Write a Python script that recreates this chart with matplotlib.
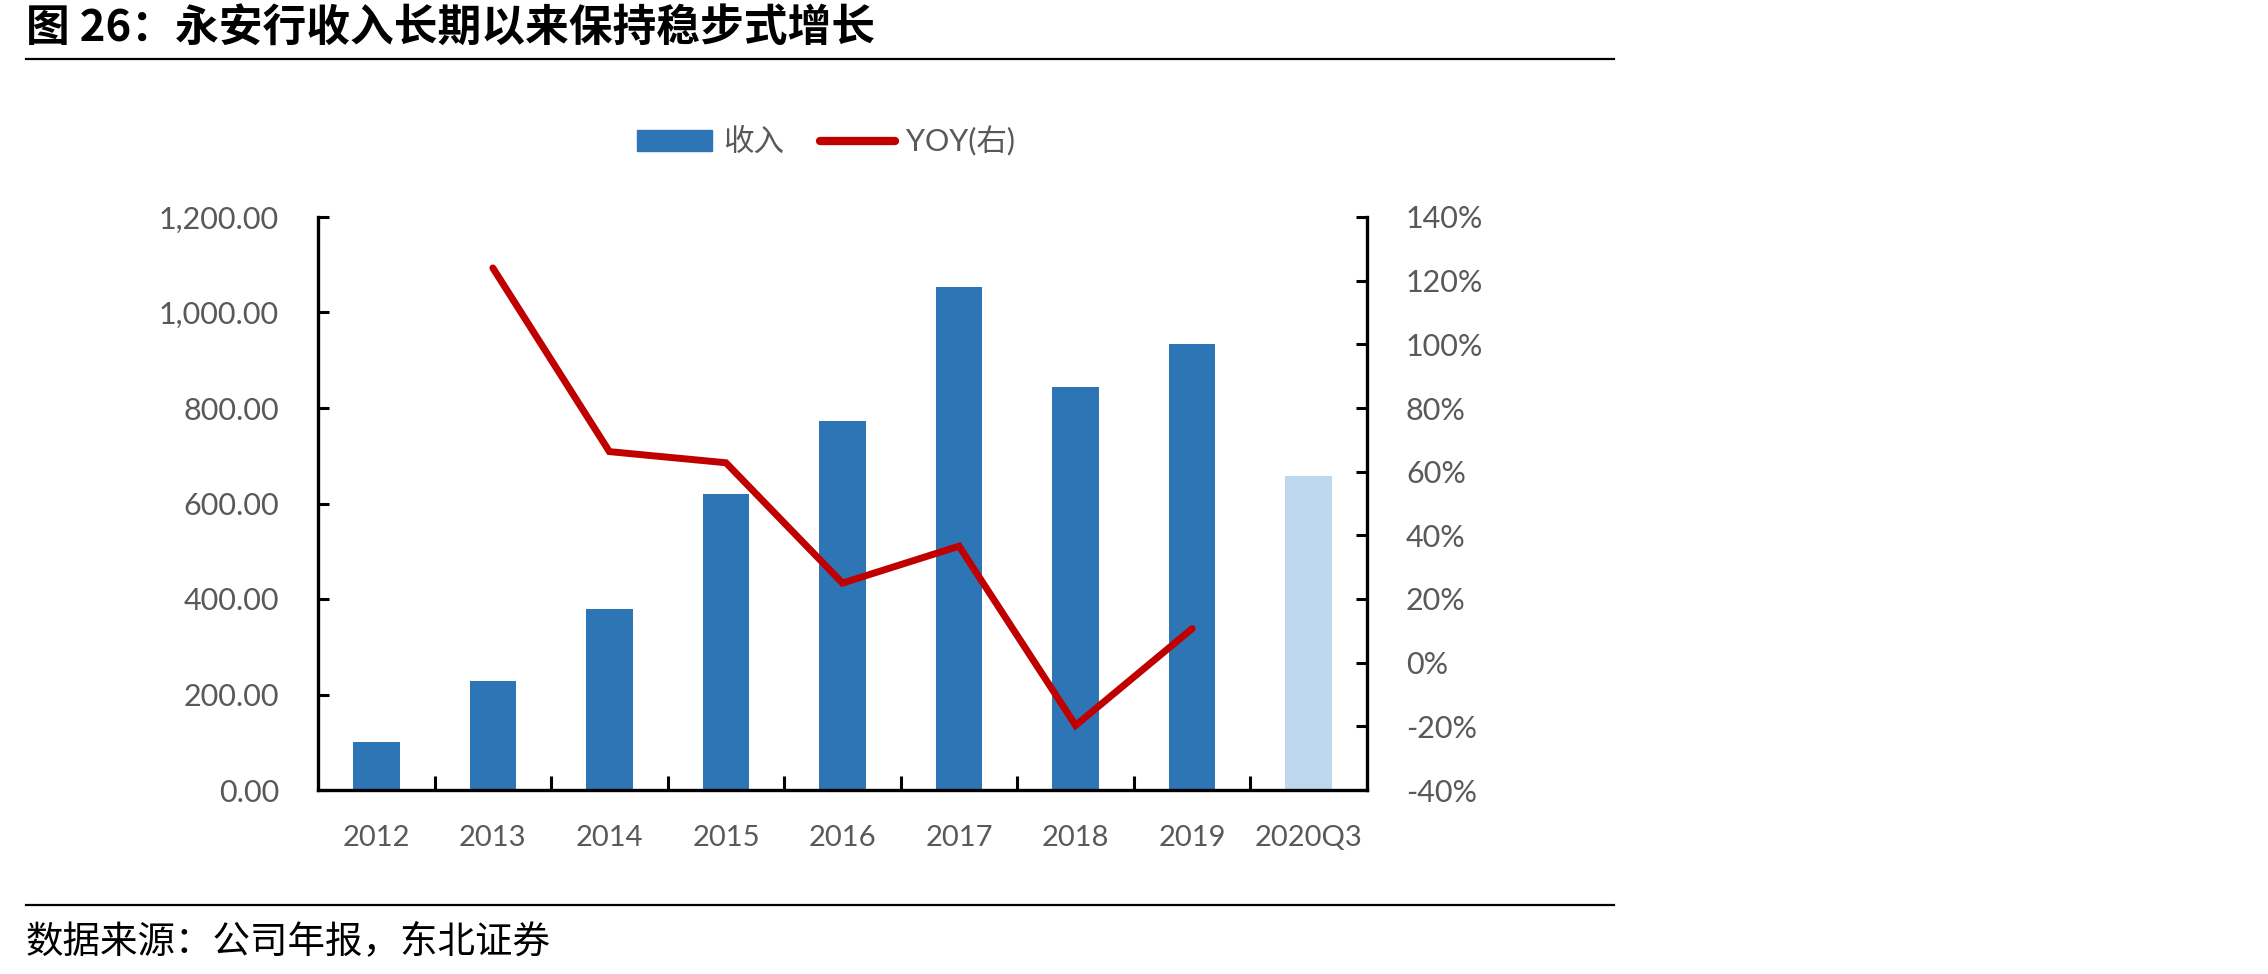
import numpy as np
import matplotlib
matplotlib.use("Agg")
import matplotlib.pyplot as plt
from matplotlib.patches import Patch
from matplotlib.lines import Line2D
from matplotlib.ticker import FuncFormatter

plt.rcParams['font.family'] = ['Lato', 'Noto Sans CJK SC', 'DejaVu Sans']

years = ["2012", "2013", "2014", "2015", "2016", "2017", "2018", "2019", "2020Q3"]
revenue = [101, 229, 380, 619, 773, 1053, 843, 934, 657]
yoy_years = ["2013", "2014", "2015", "2016", "2017", "2018", "2019"]
yoy = [124.0, 66.3, 62.8, 25.0, 36.6, -19.7, 10.7]

title = "图 26：永安行收入长期以来保持稳步式增长"
source = "数据来源：公司年报，东北证券"

gray = "#595959"
blue = "#2E75B6"
light = "#BDD7EE"
red = "#C00000"

W, H = 2268, 974
fig = plt.figure(figsize=(W / 100, H / 100), dpi=100)

ax = fig.add_axes([318 / W, 1 - 790 / H, (1367 - 318) / W, (790 - 217) / H])
x = np.arange(len(years))
colors = [blue] * (len(years) - 1) + [light]
ax.bar(x, revenue, width=0.4, color=colors, zorder=2)
ax.set_xlim(-0.5, len(years) - 0.5)
ax.set_ylim(0, 1200)
ax.set_yticks(np.arange(0, 1201, 200))
ax.yaxis.set_major_formatter(FuncFormatter(lambda v, p: "{:,.2f}".format(v)))
ax.set_xticks(x)
ax.set_xticklabels(years)
ax.set_xticks(np.arange(0.5, len(years) - 1, 1), minor=True)
ax.tick_params(axis='x', which='major', length=0, pad=25, labelsize=21, labelcolor=gray)
ax.tick_params(axis='x', which='minor', direction='in', length=10, width=2.2)
ax.tick_params(axis='y', direction='in', length=8, width=2.2, pad=28, labelsize=22, labelcolor=gray)
for s in ['top', 'right']:
    ax.spines[s].set_visible(False)
for s in ['left', 'bottom']:
    ax.spines[s].set_linewidth(2.4)

ax2 = ax.twinx()
xi = [years.index(y) for y in yoy_years]
ax2.plot(xi, yoy, color=red, lw=5, solid_capstyle='round', solid_joinstyle='miter', zorder=3)
ax2.set_ylim(-40, 140)
ax2.set_yticks(np.arange(-40, 141, 20))
ax2.yaxis.set_major_formatter(FuncFormatter(lambda v, p: "{:.0f}%".format(v)))
ax2.tick_params(axis='y', direction='in', length=8, width=2.2, pad=28, labelsize=22, labelcolor=gray)
for s in ['top', 'left', 'bottom']:
    ax2.spines[s].set_visible(False)
ax2.spines['right'].set_linewidth(2.4)

handles = [Patch(color=blue), Line2D([0], [0], color=red, lw=6, solid_capstyle='round')]
fig.legend(handles, ["收入", "YOY(右)"], loc='center', bbox_to_anchor=(826 / W, 1 - 141 / H),
           ncol=2, frameon=False, fontsize=22, labelcolor=gray, handlelength=2.45,
           handleheight=0.65, handletextpad=0.35, columnspacing=1.2)

fig.text(26 / W, 1 - 28 / H, title, fontsize=31.5, fontweight='bold', va='center', ha='left',
         family=['Noto Sans CJK SC'])
fig.add_artist(Line2D([26 / W, 1614 / W], [1 - 59 / H, 1 - 59 / H], color='black', lw=1.6))
fig.add_artist(Line2D([26 / W, 1614 / W], [1 - 905 / H, 1 - 905 / H], color='black', lw=1.6))
fig.text(26 / W, 1 - 942 / H, source, fontsize=27, va='center', ha='left',
         family=['Noto Sans CJK SC'])

fig.savefig("out.png", dpi=100)
